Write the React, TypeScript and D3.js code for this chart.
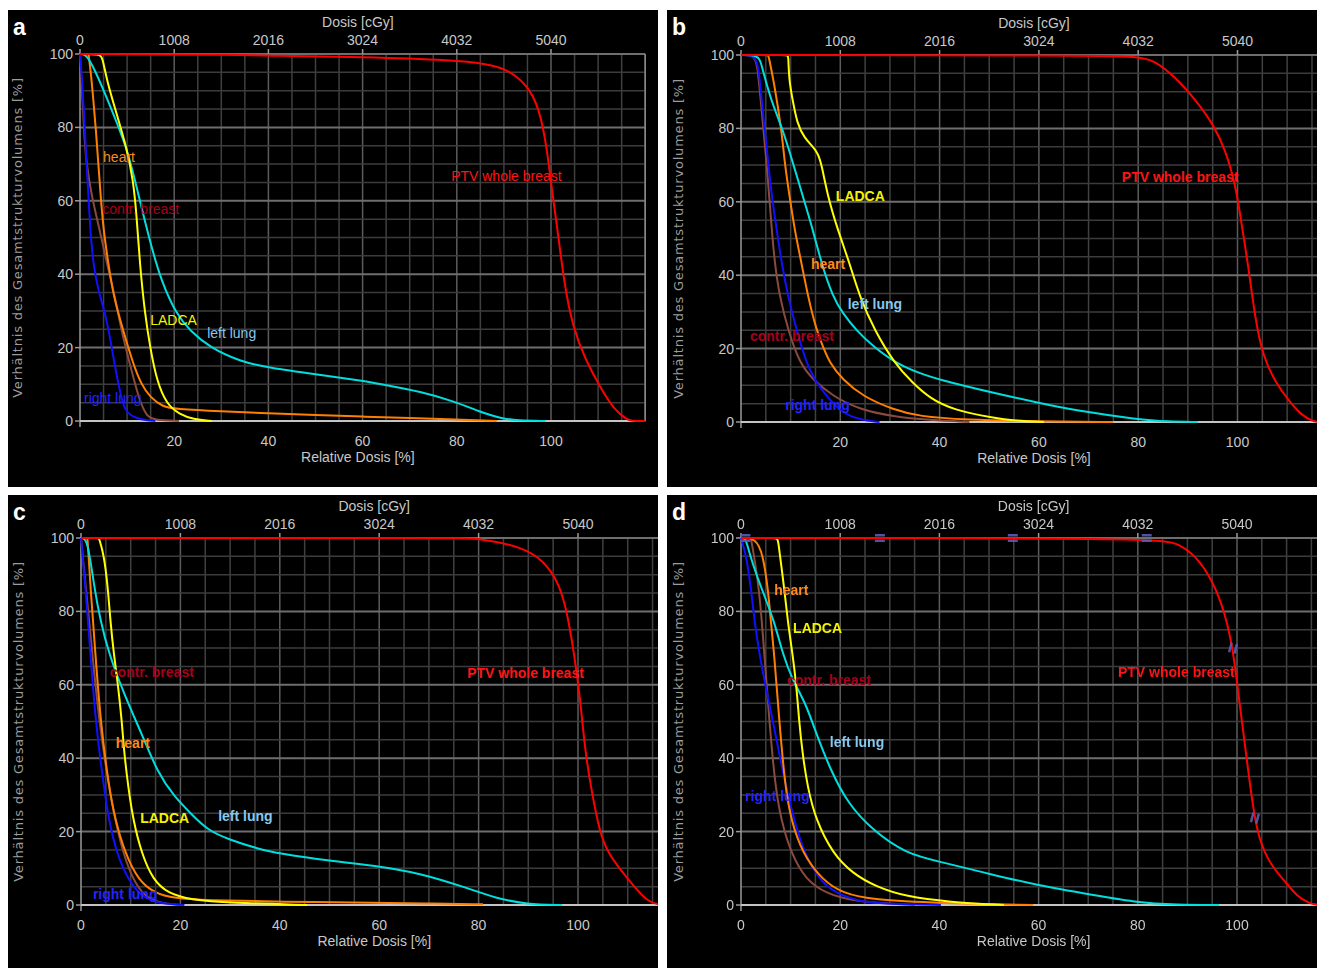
import React from 'react';
import * as d3 from 'd3';

type Pt = [number, number];

// dose axis (top) and relative dose axis (bottom); 5040 cGy = 100 %
const doseTicks = [0, 1008, 2016, 3024, 4032, 5040];
const relTicksAB = [20, 40, 60, 80, 100];
const relTicksCD = [0, 20, 40, 60, 80, 100];
const volTicks = [0, 20, 40, 60, 80, 100];
const structures = ['contr. breast', 'right lung', 'heart', 'left lung', 'LADCA', 'PTV whole breast'];

// ---- panel a ----
const aContrBreast: Pt[] = [[0, 100], [0, 100], [0.5, 88], [1, 76], [1.4, 70], [2.5, 61], [4.2, 52], [5.7, 43], [7.4, 34], [8.8, 24.5], [10.6, 15.5], [12.4, 6.4], [14.2, 0.9], [16, 0.3], [21, 0]];
const aRightLung: Pt[] = [[0, 100], [0, 100], [0.5, 92], [1, 80], [1.4, 70], [1.8, 61], [2.3, 50], [2.9, 42], [4, 35], [5.2, 30], [6.2, 24], [7, 18], [8, 11], [9, 5], [10, 2], [12, 0.8], [14, 0.2], [16, 0]];
const aHeart: Pt[] = [[0, 100], [1.8, 100], [1.8, 100], [2.3, 95], [2.8, 88], [3.4, 79], [3.9, 70], [4.4, 61], [5, 52], [6, 43], [7.1, 34], [9.2, 24.5], [11.3, 15.5], [13, 10], [14.9, 6.4], [17.7, 3.8], [20, 3.3], [30, 2.6], [40, 2.1], [50, 1.6], [60, 1.2], [70, 0.8], [80, 0.45], [88.5, 0]];
const aLeftLung: Pt[] = [[0, 100], [1.5, 100], [4.2, 92.7], [7.1, 83.6], [9.9, 74.5], [11.7, 65.5], [13.4, 56.4], [15.2, 47.3], [17.3, 38], [20.5, 29], [23.4, 24.5], [27.6, 20], [34, 16.2], [40, 14.5], [50, 12.7], [60, 11], [64, 10], [72.4, 8], [79.6, 5.3], [84.9, 2.5], [89.4, 0.7], [93, 0.1], [98.8, 0]];
const aLadca: Pt[] = [[0, 100], [4.2, 100], [4.8, 99], [5.7, 92.7], [7.8, 83.6], [9.9, 74.5], [11.3, 65.5], [12, 56.4], [12.7, 42.7], [13.8, 29], [14.9, 20], [16.3, 10.9], [18.4, 4.5], [21.2, 1.8], [24, 0.5], [28, 0]];
const aPtv: Pt[] = [[0, 100], [35, 99.8], [40, 99.5], [60, 99.2], [80, 98.3], [86, 97.3], [90.3, 96.1], [94.7, 92], [97.5, 85.6], [99.2, 73.8], [100.1, 63.8], [101.5, 51.1], [102.8, 37.5], [104.6, 25.7], [107.3, 16.6], [110.8, 8.4], [113.5, 3], [116.2, 0.3], [117, 0], [120, 0]];

// ---- panel b ----
const bContrBreast: Pt[] = [[0, 100], [2.5, 100], [3.3, 97.6], [3.9, 88.5], [5.2, 70.4], [6.2, 52.3], [6.8, 43.2], [7.8, 34], [9.5, 25], [11.8, 16], [14.5, 11.5], [18.5, 7], [23.9, 3.4], [30.6, 1.5], [38, 0.5], [46, 0]];
const bRightLung: Pt[] = [[0, 100], [2.5, 100], [3.5, 97.6], [4.1, 88.5], [4.8, 79.4], [5.5, 70.5], [6.2, 61.4], [7.2, 52.3], [8.2, 43.2], [9.5, 34], [11.2, 25], [13.2, 16], [14.8, 11.5], [17.2, 7], [20.5, 2.4], [23.9, 0.6], [27.9, 0]];
const bHeart: Pt[] = [[0, 100], [5.5, 100], [5.5, 100], [6.6, 93], [8.2, 79.4], [8.8, 70.4], [9.8, 61.3], [10.8, 52.3], [12.2, 43.2], [13.5, 34.1], [15.2, 25], [16.5, 20.6], [17.9, 16], [20.5, 11.5], [24.5, 7], [30.6, 3.4], [35.9, 1.5], [45, 0.6], [60, 0.2], [75, 0]];
const bLeftLung: Pt[] = [[0, 100], [3.5, 100], [4.1, 97.6], [5.8, 88.5], [8.5, 79.4], [10.5, 70.4], [12.5, 61.3], [14.5, 52.3], [16.2, 43.2], [18.5, 34.1], [20.5, 29.6], [23.2, 25], [26.6, 20.6], [31.2, 16], [35.9, 13.3], [40, 11.5], [50, 8.2], [60, 5.2], [68, 3], [80, 0.7], [86, 0.1], [92, 0]];
const bLadca: Pt[] = [[0, 100], [9.5, 100], [9.5, 100], [9.7, 93], [10.3, 88.5], [11.3, 81.2], [12.8, 77.4], [14.5, 75], [15.5, 73.1], [16.2, 70.4], [17.5, 61.3], [19.5, 52.3], [21.9, 43.2], [23.9, 34.1], [26.9, 25], [30.9, 16], [34.6, 10.6], [38, 6.5], [42.7, 3.3], [51.2, 1], [55, 0.4], [61, 0]];
const bPtv: Pt[] = [[0, 100], [70, 99.9], [80, 99.6], [83.2, 98.6], [87.4, 94.1], [91.6, 87.7], [95, 81.4], [97.6, 74.1], [99.7, 64.1], [100.9, 53.2], [102.2, 42.3], [103.5, 28.7], [105.1, 17.8], [107.8, 10.5], [110.2, 6], [112.8, 1.9], [115.3, 0.1], [116.5, 0], [120, 0]];

// ---- panel c ----
const cContrBreast: Pt[] = [[0, 100], [0, 100], [1, 86], [2.3, 68.4], [3.6, 50.3], [5.6, 32.2], [6.9, 23.1], [8.5, 14], [10.5, 6.8], [12.8, 2.3], [16, 0.5], [20, 0]];
const cRightLung: Pt[] = [[0, 100], [0, 100], [0.9, 86.6], [1.9, 68.4], [2.9, 50.3], [4.6, 32.2], [5.6, 23.1], [7.2, 14], [9.5, 6.8], [12.2, 2.3], [15.5, 0.45], [20.8, 0]];
const cHeart: Pt[] = [[0, 100], [1.3, 100], [1.3, 100], [1.9, 86.6], [2.9, 68.4], [3.9, 50.3], [5.6, 32.2], [6.9, 23.1], [8.9, 14], [11.5, 6.8], [14.8, 3.2], [18.8, 1.8], [25, 1.3], [40, 0.9], [60, 0.6], [70, 0.4], [80.9, 0.2]];
const cLeftLung: Pt[] = [[0, 100], [1.3, 100], [2.6, 87], [3.9, 77.5], [5.6, 68.4], [8.9, 56.7], [12.2, 46.7], [15.5, 35.8], [18.8, 29.5], [22.1, 24.9], [25.4, 20.4], [30, 17.7], [35.4, 15.4], [40, 14], [50, 12], [60, 10.6], [68.4, 8.6], [76.9, 5], [83.6, 1.8], [89.6, 0.2], [96.8, 0]];
const cLadca: Pt[] = [[0, 100], [3.6, 100], [3.6, 100], [4.6, 95.6], [5.4, 86.6], [5.9, 77.5], [6.6, 68.4], [7.5, 59.4], [8.2, 50.3], [8.7, 41.3], [9.5, 32.2], [10.5, 23.1], [12.2, 14], [14.5, 6.8], [17.5, 3.2], [22, 1.4], [30, 0.6], [45.5, 0]];
const cPtv: Pt[] = [[0, 100], [75, 100], [80.2, 99.9], [88.7, 97.6], [93, 94], [96.3, 87.6], [98, 78.5], [99.3, 67.6], [100.4, 56.8], [101.4, 42.2], [102.7, 31.3], [104.4, 19.5], [106.1, 14.1], [108.6, 9.5], [111.6, 4.5], [114.1, 0.9], [116.2, 0], [120, 0]];

// ---- panel d ----
const dContrBreast: Pt[] = [[0, 100], [2, 100], [2, 100], [3.7, 86.6], [4.7, 68.4], [5.7, 50.3], [6.9, 32.2], [8.1, 23.1], [10.1, 14], [13.1, 6.8], [17.1, 3.2], [22.5, 0.9], [35, 0]];
const dRightLung: Pt[] = [[0, 100], [0, 100], [1, 95.6], [2, 86.6], [2.7, 77.5], [3.7, 68.4], [5, 59.4], [6.4, 50.3], [7.7, 41.3], [9.1, 32.2], [10.7, 23.1], [12.8, 14], [15.8, 6.8], [19.1, 3.2], [23.8, 0.9], [30, 0.3], [40.3, 0]];
const dHeart: Pt[] = [[0, 100], [3, 100], [4.4, 95.6], [5.4, 86.6], [6, 77.5], [6.7, 68.4], [7.7, 50.3], [8.9, 32.2], [10.1, 23.1], [12.4, 14], [16.4, 6.8], [20.5, 3.2], [26.5, 1.4], [40, 0.5], [58.9, 0]];
const dLeftLung: Pt[] = [[0, 100], [1, 100], [1.7, 95.6], [4, 86.6], [6.7, 77.5], [8.4, 68.4], [10.4, 61.2], [13.1, 54.9], [15.4, 45.8], [18.1, 36.7], [21.5, 27.7], [26.5, 20.4], [33.2, 14], [40.1, 11.8], [50, 8.5], [59.7, 5.4], [68.2, 3.4], [79.9, 0.6], [88, 0.1], [96.4, 0]];
const dLadca: Pt[] = [[0, 100], [7.4, 100], [7.4, 100], [8.7, 86.6], [9.4, 77.5], [10.4, 68.4], [11.2, 59.4], [11.7, 50.3], [12.4, 41.3], [13.4, 32.2], [15.1, 23.1], [18.5, 14], [22.5, 8.6], [27.2, 5], [33.2, 2.3], [42, 0.8], [53, 0]];
const dPtv: Pt[] = [[0, 100], [84, 100], [88.4, 98.5], [92.6, 94], [96, 85.8], [98.1, 76.8], [99.4, 67.7], [100.6, 54], [101.9, 40.4], [103.2, 26.8], [104.4, 17.7], [107, 10.4], [109.5, 6.8], [112.1, 2.3], [114.6, 0.5], [115.8, 0], [120, 0]];
// dose-point markers in panel d
const dMarkersTop: number[] = [0.9, 28, 54.8, 81.8];
const dMarkersCurve: Pt[] = [[99.2, 70], [103.6, 23.7]];

// structure label anchors: [name, x (%), y (%)]
const aLabels: [string, number, number][] = [['heart', 4.9, 71.9], ['contr. breast', 4.7, 57.8], ['LADCA', 14.9, 27.5], ['left lung', 27, 24], ['right lung', 0.85, 6.3], ['PTV whole breast', 78.8, 66.8]];
const bLabels: [string, number, number][] = [['LADCA', 19.1, 61.6], ['heart', 14.1, 43], ['left lung', 21.5, 32.2], ['contr. breast', 1.8, 23.4], ['right lung', 8.9, 4.6], ['PTV whole breast', 76.7, 66.8]];
const cLabels: [string, number, number][] = [['contr. breast', 5.8, 63.5], ['heart', 7, 44.1], ['LADCA', 11.9, 23.7], ['left lung', 27.6, 24.3], ['right lung', 2.4, 3], ['PTV whole breast', 77.7, 63.2]];
const dLabels: [string, number, number][] = [['heart', 6.7, 85.8], ['LADCA', 10.5, 75.5], ['contr. breast', 9.3, 61.3], ['left lung', 17.9, 44.4], ['right lung', 0.8, 29.7], ['PTV whole breast', 76, 63.5]];

const lineColor: Record<string, string> = {
  'contr. breast': '#8a4a3e',
  'right lung': '#1010ff',
  heart: '#ff8000',
  'left lung': '#00dede',
  LADCA: '#ffff00',
  'PTV whole breast': '#ff0000',
};
const labelColor: Record<string, string> = {
  'contr. breast': '#a8001c',
  'right lung': '#2424ff',
  heart: '#ff8a1c',
  'left lung': '#86c8ee',
  LADCA: '#f4f400',
  'PTV whole breast': '#ff1414',
};

const NARROW = "'Liberation Sans Narrow', 'Liberation Sans', Arial, sans-serif";
const WIDE = "'DejaVu Sans', 'Open Sans', sans-serif";

const panels = [
  { id: 'a', bg: [8, 10, 650, 477], x0: 80, pxu: 4.71, yTop: 54, yBot: 421, rel: relTicksAB, border: true, bold: false,
    series: [aContrBreast, aRightLung, aHeart, aLeftLung, aLadca, aPtv], labels: aLabels },
  { id: 'b', bg: [667, 10, 650, 477], x0: 741, pxu: 4.965, yTop: 55, yBot: 422, rel: relTicksAB, border: false, bold: true,
    series: [bContrBreast, bRightLung, bHeart, bLeftLung, bLadca, bPtv], labels: bLabels },
  { id: 'c', bg: [8, 495, 650, 473], x0: 81, pxu: 4.97, yTop: 538, yBot: 905, rel: relTicksCD, border: false, bold: true,
    series: [cContrBreast, cRightLung, cHeart, cLeftLung, cLadca, cPtv], labels: cLabels },
  { id: 'd', bg: [667, 495, 650, 473], x0: 741, pxu: 4.96, yTop: 538, yBot: 905, rel: relTicksCD, border: false, bold: true,
    series: [dContrBreast, dRightLung, dHeart, dLeftLung, dLadca, dPtv], labels: dLabels },
];

const Panel = ({ p }: { p: (typeof panels)[number] }) => {
  const [bx, by, bw, bh] = p.bg;
  const x = d3.scaleLinear().domain([0, 120]).range([p.x0, p.x0 + 120 * p.pxu]);
  const xDose = d3.scaleLinear().domain([0, 120 * 50.4]).range(x.range());
  const y = d3.scaleLinear().domain([0, 100]).range([p.yBot, p.yTop]);
  const line = d3.line<Pt>().x((d) => x(d[0])).y((d) => y(d[1])).curve(d3.curveBasis);
  const clipId = `clip-${p.id}`;
  const midX = x(59);

  return (
    <g>
      <rect x={bx} y={by} width={bw} height={bh} fill="#000" />
      <clipPath id={clipId}>
        <rect x={bx} y={by} width={bw} height={bh} />
      </clipPath>
      <g clipPath={`url(#${clipId})`}>
        {/* grid */}
        {d3.range(5, 121, 5).map((v) => (
          <line key={'v' + v} x1={x(v)} x2={x(v)} y1={y(100)} y2={y(0)}
            stroke={v % 20 === 0 ? '#5c5c5c' : '#404040'} strokeWidth={1.5} />
        ))}
        {d3.range(5, 101, 5).map((v) => (
          <line key={'h' + v} x1={x(0)} x2={x(120)} y1={y(v)} y2={y(v)}
            stroke={v % 20 === 0 ? '#6e6e6e' : '#3c3c3c'} strokeWidth={v % 20 === 0 ? 2 : 1.5} />
        ))}
        {p.border && <line x1={x(120)} x2={x(120)} y1={y(100)} y2={y(0)} stroke="#8a8a8a" strokeWidth={1.5} />}
        <line x1={x(0)} x2={x(0)} y1={y(100) - 1} y2={y(0) + 6} stroke="#9a9a9a" strokeWidth={1.5} />
        <line x1={x(0)} x2={x(120)} y1={y(0)} y2={y(0)} stroke="#c4c4c4" strokeWidth={2} />
        {/* ticks */}
        {volTicks.map((v) => (
          <line key={'yt' + v} x1={x(0) - 5} x2={x(0)} y1={y(v)} y2={y(v)} stroke="#9a9a9a" strokeWidth={1.5} />
        ))}
        {doseTicks.map((v) => (
          <line key={'xt' + v} x1={xDose(v)} x2={xDose(v)} y1={y(100) - 5} y2={y(100)} stroke="#9a9a9a" strokeWidth={1.5} />
        ))}
        {/* curves */}
        {p.series.map((s, i) => (
          <path key={structures[i]} d={line(s) ?? ''} fill="none" stroke={lineColor[structures[i]]} strokeWidth={2} />
        ))}
        {p.id === 'd' && (
          <g fill="#5c5cb0" opacity={0.9}>
            {dMarkersTop.map((v) => (
              <g key={'m' + v}>
                <rect x={x(v) - 5} y={y(100) - 4} width={10} height={2.5} />
                <rect x={x(v) - 5} y={y(100) + 1.5} width={10} height={2.5} />
              </g>
            ))}
            {dMarkersCurve.map(([mx, my]) => (
              <g key={'c' + mx} transform={`translate(${x(mx)},${y(my)}) rotate(15)`}>
                <rect x={-4} y={-5} width={2.5} height={10} />
                <rect x={1.5} y={-5} width={2.5} height={10} />
              </g>
            ))}
          </g>
        )}
        {/* labels */}
        {p.labels.map(([name, lx, ly]) => (
          <text key={'l' + name} x={x(lx)} y={y(ly)} dy="0.35em" fill={labelColor[name]}
            fontFamily={NARROW} fontSize={14} fontWeight={p.bold ? 700 : 400}>
            {name}
          </text>
        ))}
      </g>
      {/* tick labels */}
      <g fontFamily={NARROW} fontSize={14} fill="#c8c8c8">
        {volTicks.map((v) => (
          <text key={'yl' + v} x={x(0) - 7} y={y(v)} dy="0.35em" textAnchor="end">{v}</text>
        ))}
        {doseTicks.map((v) => (
          <text key={'dl' + v} x={xDose(v)} y={y(100) - 9} textAnchor="middle">{v}</text>
        ))}
        {p.rel.map((v) => (
          <text key={'rl' + v} x={x(v)} y={y(0) + 25} textAnchor="middle">{v}</text>
        ))}
        <text x={midX} y={y(100) - 27} textAnchor="middle">Dosis [cGy]</text>
        <text x={midX} y={y(0) + 41} textAnchor="middle">Relative Dosis [%]</text>
      </g>
      <text transform={`translate(${x(0) - 58},${(y(0) + y(100)) / 2}) rotate(-90)`} textAnchor="middle"
        fontFamily={WIDE} fontSize={13} letterSpacing={0.8} fill="#9c9c9c">
        Verhältnis des Gesamtstrukturvolumens [%]
      </text>
      <text x={bx + 5} y={by + 25} fontFamily="'Liberation Sans', Arial, sans-serif" fontWeight={700} fontSize={23} fill="#fff">
        {p.id}
      </text>
    </g>
  );
};

export default function App() {
  return (
    <div style={{ position: 'absolute', left: 0, top: 0 }}>
      <svg width={1317} height={970} style={{ display: 'block', background: '#fff' }}>
        {panels.map((p) => (
          <Panel key={p.id} p={p} />
        ))}
      </svg>
    </div>
  );
}
